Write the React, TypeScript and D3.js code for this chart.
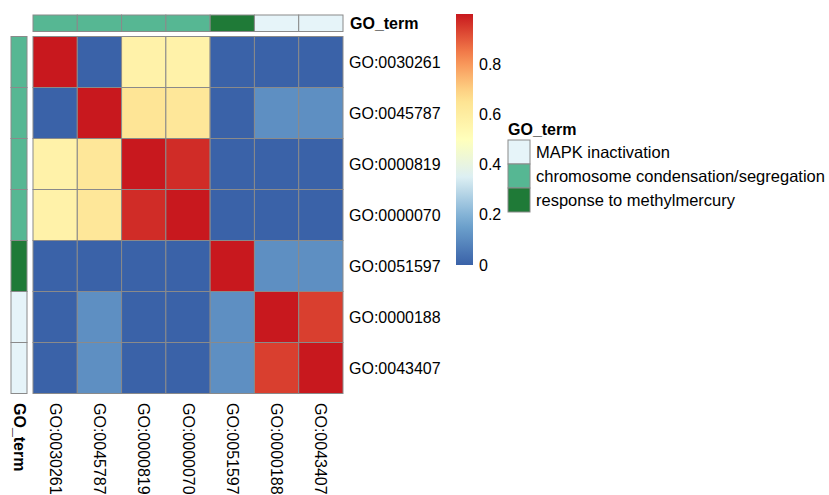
import React from 'react'
import * as d3 from 'd3'

// GO ids, same order for rows and columns
const terms = ['GO:0030261', 'GO:0045787', 'GO:0000819', 'GO:0000070', 'GO:0051597', 'GO:0000188', 'GO:0043407']
const termGroup = [
  'chromosome condensation/segregation',
  'chromosome condensation/segregation',
  'chromosome condensation/segregation',
  'chromosome condensation/segregation',
  'response to methylmercury',
  'MAPK inactivation',
  'MAPK inactivation',
]
const groups = ['MAPK inactivation', 'chromosome condensation/segregation', 'response to methylmercury']
const groupColors = ['#E6F4F9', '#56B793', '#1F7A37']

// similarity matrix, row by row
const sim = [
  [1.0, 0.0, 0.57, 0.57, 0.0, 0.0, 0.0],
  [0.0, 1.0, 0.64, 0.63, 0.0, 0.11, 0.11],
  [0.57, 0.63, 1.0, 0.97, 0.0, 0.0, 0.0],
  [0.57, 0.63, 0.97, 1.0, 0.0, 0.0, 0.0],
  [0.0, 0.0, 0.0, 0.0, 1.0, 0.11, 0.11],
  [0.0, 0.11, 0.0, 0.0, 0.11, 1.0, 0.94],
  [0.0, 0.11, 0.0, 0.0, 0.11, 0.94, 1.0],
]
const legendTicks = [0, 0.2, 0.4, 0.6, 0.8]

const font = '"Liberation Sans", Arial, sans-serif'
const gridCol = '#8a8a8a'

const color = d3.scaleLinear<string>()
  .domain([0, 0.17, 0.35, 0.5, 0.67, 0.83, 1])
  .range(['#3a62a8', '#72a7d0', '#dceff3', '#ffffbc', '#fee08e', '#f7874f', '#c8181e'])
  .interpolate(d3.interpolateRgb)

const groupColor = d3.scaleOrdinal<string, string>().domain(groups).range(groupColors)

export default function App() {
  const x = d3.scaleBand().domain(terms).range([33, 343])
  const y = d3.scaleBand().domain(terms).range([36.5, 393.5])
  const bw = x.bandwidth()
  const bh = y.bandwidth()

  const barY = d3.scaleLinear().domain([0, 1]).range([265, 14])
  const stops = d3.range(0, 1.001, 0.05)

  return (
    <svg width={829} height={495} style={{ position: 'absolute', left: 0, top: 0, fontFamily: font }}>
      <defs>
        <linearGradient id="cbar" x1="0" y1="1" x2="0" y2="0">
          {stops.map((s) => (
            <stop key={s} offset={s} stopColor={color(s)} />
          ))}
        </linearGradient>
      </defs>

      {/* top annotation */}
      {terms.map((t, i) => (
        <rect key={'ta' + t} x={x(t)} y={15} width={bw} height={16.5}
          fill={groupColor(termGroup[i])} stroke={gridCol} strokeWidth={1} />
      ))}
      <text x={350} y={23} dominantBaseline="central" fontSize={16} fontWeight="bold">GO_term</text>

      {/* left annotation */}
      {terms.map((t, i) => (
        <rect key={'la' + t} x={11} y={y(t)} width={16} height={bh}
          fill={groupColor(termGroup[i])} stroke={gridCol} strokeWidth={1} />
      ))}
      <text transform={`translate(19,403) rotate(90)`} dominantBaseline="central" fontSize={16} fontWeight="bold">GO_term</text>

      {/* heatmap cells */}
      {sim.map((row, i) => row.map((v, j) => (
        <rect key={i + '-' + j} x={x(terms[j])} y={y(terms[i])} width={bw} height={bh}
          fill={color(v)} stroke={gridCol} strokeWidth={1} />
      )))}

      {/* row names */}
      {terms.map((t) => (
        <text key={'rn' + t} x={349} y={(y(t) as number) + bh / 2} dominantBaseline="central" fontSize={16} fill="#000">{t}</text>
      ))}
      {/* column names */}
      {terms.map((t) => (
        <text key={'cn' + t} transform={`translate(${(x(t) as number) + bw / 2},403) rotate(90)`}
          dominantBaseline="central" fontSize={16} fill="#000">{t}</text>
      ))}

      {/* colour bar */}
      <rect x={456} y={barY(1)} width={17} height={barY(0) - barY(1)} fill="url(#cbar)" />
      {legendTicks.map((t) => (
        <text key={'lt' + t} x={479} y={barY(t)} dominantBaseline="central" fontSize={16}>{t === 0 ? '0' : t.toFixed(1)}</text>
      ))}

      {/* group legend */}
      <text x={508} y={129} dominantBaseline="central" fontSize={16} fontWeight="bold">GO_term</text>
      {groups.map((g, i) => (
        <g key={'lg' + g}>
          <rect x={508} y={140 + i * 24} width={22} height={24} fill={groupColors[i]} stroke={gridCol} strokeWidth={1} />
          <text x={536} y={152 + i * 24} dominantBaseline="central" fontSize={16.5}>{g}</text>
        </g>
      ))}
    </svg>
  )
}
